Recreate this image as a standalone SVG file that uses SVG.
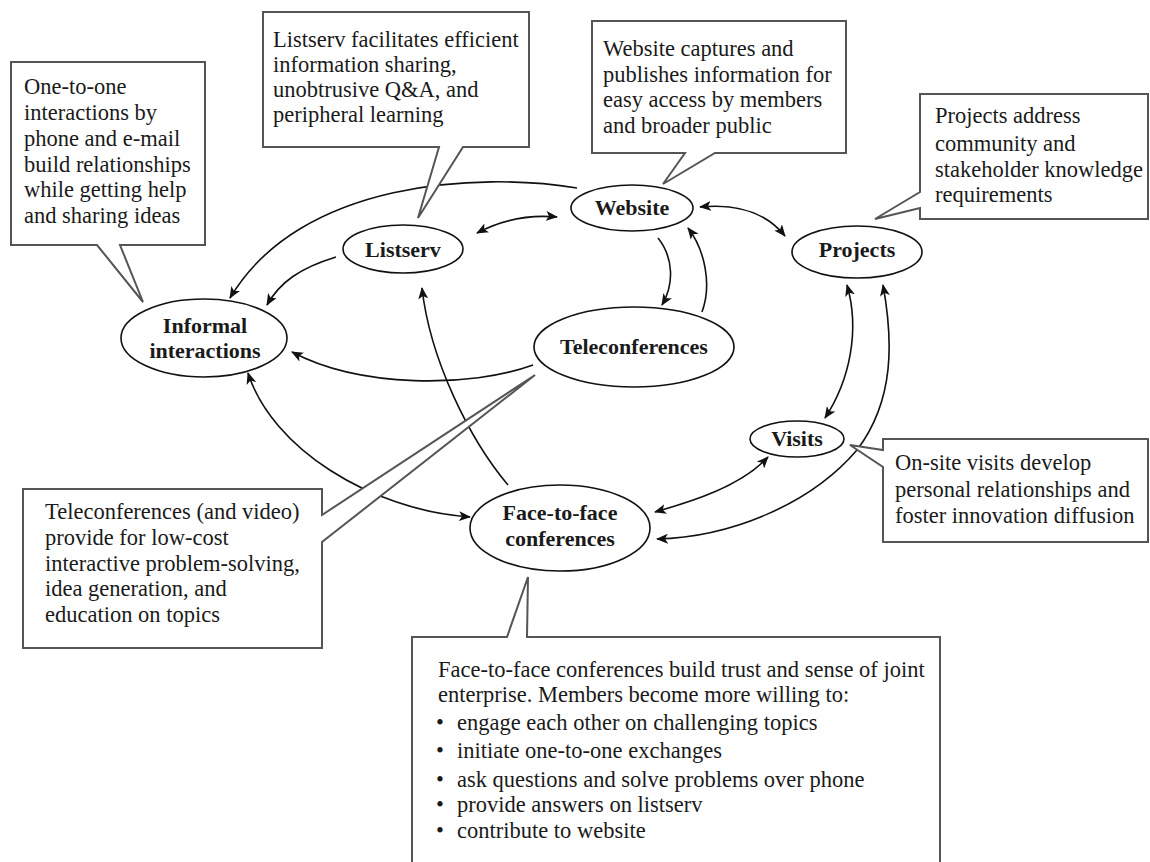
<svg xmlns="http://www.w3.org/2000/svg" width="1150" height="862" viewBox="0 0 1150 862">
<style>
.bg{fill:#fff}
.node ellipse{fill:#fff;stroke:#111;stroke-width:1.6}
.lbl{font-family:"Liberation Serif","Times New Roman",serif;font-weight:bold;font-size:22px;fill:#1a1a1a;text-anchor:middle}
.call path{fill:#fff;stroke:#555;stroke-width:2}
.ct{font-family:"Liberation Serif","Times New Roman",serif;font-size:22.5px;fill:#1a1a1a}
.conn path{fill:none;stroke:#111;stroke-width:1.6}
</style>
<defs>
<marker id="ah" viewBox="0 0 12 10" refX="11" refY="5" markerWidth="12" markerHeight="10" markerUnits="userSpaceOnUse" orient="auto-start-reverse">
<path d="M0,0 L12,5 L0,10 L3,5 Z" fill="#111"/>
</marker>
</defs>
<rect class="bg" x="0" y="0" width="1150" height="862"/>

<g id="connectors" class="conn">
<path d="M577,188 C480,172 300,180 230,298" marker-end="url(#ah)"/>
<path d="M336,257 C300,268 280,282 267,305" marker-end="url(#ah)"/>
<path d="M477,233 Q515,213 557,217" marker-start="url(#ah)" marker-end="url(#ah)"/>
<path d="M658,238 C674,258 674,285 662,305" marker-end="url(#ah)"/>
<path d="M702,312 C712,285 705,250 688,228" marker-end="url(#ah)"/>
<path d="M533,365 C470,388 360,388 292,352" marker-end="url(#ah)"/>
<path d="M508,485 C470,440 430,360 422,288" marker-end="url(#ah)"/>
<path d="M248,373 C272,448 370,510 470,517" marker-start="url(#ah)" marker-end="url(#ah)"/>
<path d="M655,512 C690,502 740,487 768,457" marker-start="url(#ah)" marker-end="url(#ah)"/>
<path d="M883,285 C893,340 895,400 857,450 C810,505 730,537 657,539" marker-start="url(#ah)" marker-end="url(#ah)"/>
<path d="M847,285 C860,330 850,380 825,418" marker-start="url(#ah)" marker-end="url(#ah)"/>
<path d="M700,207 C740,203 768,215 785,236" marker-start="url(#ah)" marker-end="url(#ah)"/>
</g>

<g id="informal" class="node"><ellipse cx="204" cy="338" rx="83" ry="39"/><text class="lbl" x="205" y="333">Informal</text><text class="lbl" x="205" y="358">interactions</text></g>
<g id="listserv" class="node"><ellipse cx="403" cy="249" rx="60" ry="24"/><text class="lbl" x="403" y="257">Listserv</text></g>
<g id="website" class="node"><ellipse cx="632" cy="208" rx="61" ry="23"/><text class="lbl" x="632" y="215">Website</text></g>
<g id="teleconferences" class="node"><ellipse cx="634" cy="347" rx="100" ry="40"/><text class="lbl" x="634" y="354">Teleconferences</text></g>
<g id="projects" class="node"><ellipse cx="857" cy="252" rx="65" ry="26"/><text class="lbl" x="857" y="257">Projects</text></g>
<g id="visits" class="node"><ellipse cx="797" cy="439" rx="47" ry="18"/><text class="lbl" x="797" y="446">Visits</text></g>
<g id="facetoface" class="node"><ellipse cx="560" cy="528" rx="90" ry="43"/><text class="lbl" x="560" y="520">Face-to-face</text><text class="lbl" x="560" y="546">conferences</text></g>

<g id="callout-informal" class="call">
<path d="M11,62 H205 V245 H120 L143,302 L97,245 H11 Z"/>
<text class="ct" x="24" y="94">One-to-one</text>
<text class="ct" x="24" y="120">interactions by</text>
<text class="ct" x="24" y="146">phone and e-mail</text>
<text class="ct" x="24" y="172">build relationships</text>
<text class="ct" x="24" y="197">while getting help</text>
<text class="ct" x="24" y="223">and sharing ideas</text>
</g>
<g id="callout-listserv" class="call">
<path d="M263,12 H529 V147 H463 L418,218 L439,147 H263 Z"/>
<text class="ct" x="273" y="47">Listserv facilitates efficient</text>
<text class="ct" x="273" y="72">information sharing,</text>
<text class="ct" x="273" y="97">unobtrusive Q&amp;A, and</text>
<text class="ct" x="273" y="122">peripheral learning</text>
</g>
<g id="callout-website" class="call">
<path d="M592,21 H846 V153 H715 L663,184 L685,153 H592 Z"/>
<text class="ct" x="603" y="56">Website captures and</text>
<text class="ct" x="603" y="82">publishes information for</text>
<text class="ct" x="603" y="107">easy access by members</text>
<text class="ct" x="603" y="133">and broader public</text>
</g>
<g id="callout-projects" class="call">
<path d="M920,94 H1148 V219 H920 V208 L875,219 L920,192 Z"/>
<text class="ct" x="935" y="123">Projects address</text>
<text class="ct" x="935" y="151">community and</text>
<text class="ct" x="935" y="177">stakeholder knowledge</text>
<text class="ct" x="935" y="202">requirements</text>
</g>
<g id="callout-visits" class="call">
<path d="M883,439 H1148 V542 H883 V467 L850,445 L883,450 Z"/>
<text class="ct" x="895" y="470">On-site visits develop</text>
<text class="ct" x="895" y="497">personal relationships and</text>
<text class="ct" x="895" y="523">foster innovation diffusion</text>
</g>
<g id="callout-teleconferences" class="call">
<path d="M23,489 H322 V515 L535,375 L322,542 V648 H23 Z"/>
<text class="ct" x="45" y="519">Teleconferences (and video)</text>
<text class="ct" x="45" y="545">provide for low-cost</text>
<text class="ct" x="45" y="571">interactive problem-solving,</text>
<text class="ct" x="45" y="596">idea generation, and</text>
<text class="ct" x="45" y="622">education on topics</text>
</g>
<g id="callout-facetoface" class="call">
<path d="M412,637 H507 L528,577 L527,637 H940 V875 H412 Z"/>
<text class="ct" x="438" y="677">Face-to-face conferences build trust and sense of joint</text>
<text class="ct" x="438" y="702">enterprise. Members become more willing to:</text>
<text class="ct" x="436" y="730">•</text><text class="ct" x="457" y="730">engage each other on challenging topics</text>
<text class="ct" x="436" y="758">•</text><text class="ct" x="457" y="758">initiate one-to-one exchanges</text>
<text class="ct" x="436" y="787">•</text><text class="ct" x="457" y="787">ask questions and solve problems over phone</text>
<text class="ct" x="436" y="812">•</text><text class="ct" x="457" y="812">provide answers on listserv</text>
<text class="ct" x="436" y="838">•</text><text class="ct" x="457" y="838">contribute to website</text>
</g>
</svg>
